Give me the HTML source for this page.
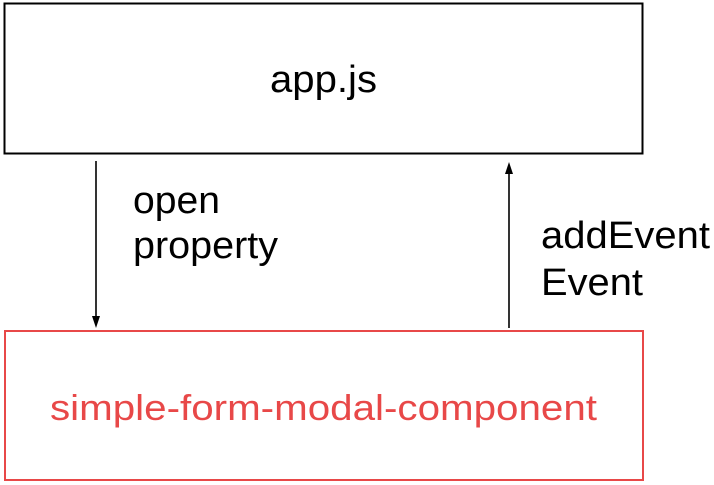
<!DOCTYPE html>
<html><head><style>body{margin:0;background:#fff}svg{display:block}</style></head>
<body>
<svg width="714" height="485" xmlns="http://www.w3.org/2000/svg" font-family="Liberation Sans, Arial, sans-serif">
<rect x="4.5" y="3.5" width="638" height="150" fill="#fff" stroke="#000" stroke-width="2"/>
<text x="270" y="92" font-size="38" fill="#000" textLength="107" lengthAdjust="spacingAndGlyphs">app.js</text>
<rect x="5" y="331" width="638" height="149" fill="#fff" stroke="#e84848" stroke-width="2"/>
<text x="50" y="420" font-size="36" fill="#e84848" textLength="547" lengthAdjust="spacingAndGlyphs">simple-form-modal-component</text>
<line x1="96" y1="161" x2="96" y2="318" stroke="#000" stroke-width="1.6"/>
<polygon points="92,316 100,316 96,328" fill="#000"/>
<line x1="509" y1="172" x2="509" y2="328" stroke="#000" stroke-width="1.6"/>
<polygon points="505,174 513,174 509,162" fill="#000"/>
<g font-size="38" fill="#000">
<text x="133" y="213" textLength="87" lengthAdjust="spacingAndGlyphs">open</text>
<text x="133" y="258" textLength="145" lengthAdjust="spacingAndGlyphs">property</text>
<text x="541" y="248" textLength="169" lengthAdjust="spacingAndGlyphs">addEvent</text>
<text x="541" y="295" textLength="102" lengthAdjust="spacingAndGlyphs">Event</text>
</g>
</svg>
</body></html>
